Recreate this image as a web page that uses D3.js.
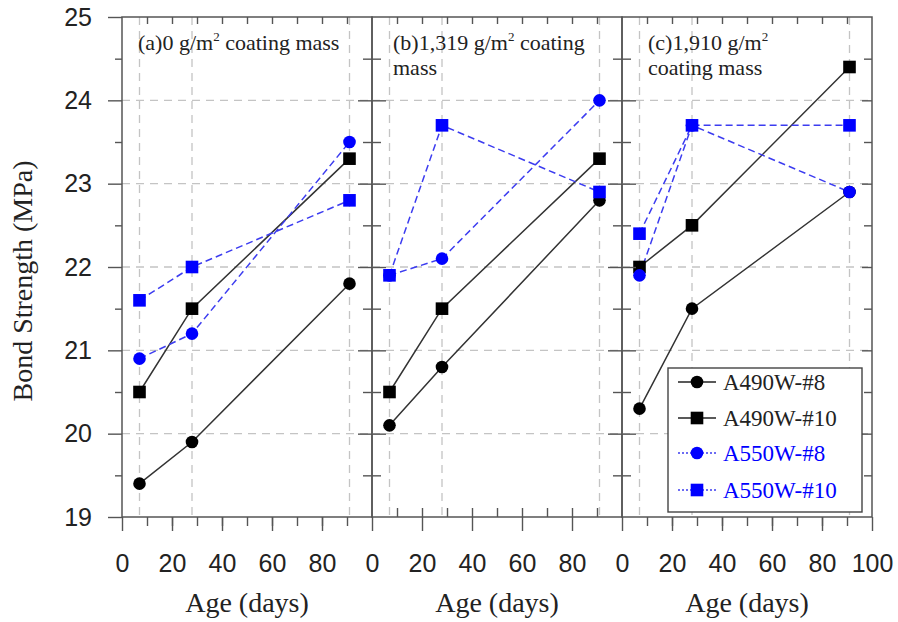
<!DOCTYPE html>
<html>
<head>
<meta charset="utf-8">
<script src="https://cdn.jsdelivr.net/npm/d3@7"></script>
<style>
  body { margin: 0; background: #fff; }
  svg { display: block; }
  .tick text { font-family: "Liberation Sans", Arial, sans-serif; font-size: 25px; fill: #222; }
  .serif { font-family: "Liberation Serif", "Times New Roman", serif; fill: #222; }
</style>
</head>
<body>
<div id="chart"></div>
<script>
// ages (days) at which bond strength was measured
const ages = [7, 28, 91];
const panelTitles = [
  ['(a)0 g/m', '2', ' coating mass'],
  ['(b)1,319 g/m', '2', ' coating', 'mass'],
  ['(c)1,910 g/m', '2', '', 'coating mass']
];
// one row per panel (a, b, c), values in MPa
const a490w8  = [[19.4, 19.9, 21.8], [20.1, 20.8, 22.8], [20.3, 21.5, 22.9]];
const a490w10 = [[20.5, 21.5, 23.3], [20.5, 21.5, 23.3], [22.0, 22.5, 24.4]];
const a550w8  = [[20.9, 21.2, 23.5], [21.9, 22.1, 24.0], [21.9, 23.7, 22.9]];
const a550w10 = [[21.6, 22.0, 22.8], [21.9, 23.7, 22.9], [22.4, 23.7, 23.7]];
const seriesNames = ['A490W-#8', 'A490W-#10', 'A550W-#8', 'A550W-#10'];
const yTicks = [19, 20, 21, 22, 23, 24, 25];
const xTicks = [0, 20, 40, 60, 80, 100];

const width = 898, height = 622;
const panelLeft = [122, 372, 622];
const panelW = 250;
const plotTop = 17, plotBottom = 517;

const series = [
  { name: seriesNames[0], data: a490w8,  color: '#000', line: '#333', dash: null, shape: 'circle' },
  { name: seriesNames[1], data: a490w10, color: '#000', line: '#333', dash: null, shape: 'square' },
  { name: seriesNames[2], data: a550w8,  color: '#0000ff', line: '#3c3cf0', dash: '7,4', shape: 'circle' },
  { name: seriesNames[3], data: a550w10, color: '#0000ff', line: '#3c3cf0', dash: '7,4', shape: 'square' }
];

const svg = d3.select('#chart').append('svg')
  .attr('width', width).attr('height', height);

const y = d3.scaleLinear().domain([19, 25]).range([plotBottom, plotTop]);
const yMinor = d3.range(19.5, 25, 1);
const xMinor = d3.range(10, 100, 10);

function marker(g, shape, cx, cy, color) {
  if (shape === 'circle') {
    g.append('circle').attr('cx', cx).attr('cy', cy).attr('r', 6.3).attr('fill', color);
  } else {
    g.append('rect').attr('x', cx - 6.3).attr('y', cy - 6.3)
      .attr('width', 12.6).attr('height', 12.6).attr('fill', color);
  }
}

function styleAxis(g) {
  g.select('.domain').remove();
  g.selectAll('.tick line').attr('stroke', '#555').attr('stroke-width', 1.4);
}

panelLeft.forEach((left, p) => {
  const x = d3.scaleLinear().domain([0, 100]).range([left, left + panelW]);
  const g = svg.append('g');

  // grid
  g.selectAll('.hgrid').data(yTicks.slice(1, -1)).enter().append('line')
    .attr('x1', left).attr('x2', left + panelW)
    .attr('y1', d => y(d)).attr('y2', d => y(d))
    .attr('stroke', '#c4c4c4').attr('stroke-width', 1.3).attr('stroke-dasharray', '8,6');
  g.selectAll('.vgrid').data(ages).enter().append('line')
    .attr('x1', d => x(d)).attr('x2', d => x(d))
    .attr('y1', plotTop).attr('y2', plotBottom)
    .attr('stroke', '#c4c4c4').attr('stroke-width', 1.3).attr('stroke-dasharray', '8,6');

  // series
  const line = d3.line().x((d, i) => x(ages[i])).y(d => y(d));
  series.forEach(s => {
    g.append('path').datum(s.data[p])
      .attr('d', line).attr('fill', 'none')
      .attr('stroke', s.line).attr('stroke-width', 1.5)
      .attr('stroke-dasharray', s.dash);
  });
  series.forEach(s => {
    s.data[p].forEach((v, i) => marker(g, s.shape, x(ages[i]), y(v), s.color));
  });

  // frame
  g.append('rect').attr('x', left).attr('y', plotTop).attr('width', panelW).attr('height', plotBottom - plotTop)
    .attr('fill', 'none').attr('stroke', '#555').attr('stroke-width', 1.5);

  // bottom axis
  const xMajor = p === 2 ? xTicks : xTicks.slice(0, -1);
  g.append('g').attr('transform', `translate(0,${plotBottom})`)
    .call(d3.axisBottom(x).tickValues(xMajor).tickSize(14).tickPadding(23).tickFormat(d3.format('d')))
    .call(styleAxis);
  g.append('g').attr('transform', `translate(0,${plotBottom})`)
    .call(d3.axisBottom(x).tickValues(xMinor).tickSize(p === 1 ? -9 : 9).tickFormat(''))
    .call(styleAxis);
  // top axis (inward)
  g.append('g').attr('transform', `translate(0,${plotTop})`)
    .call(d3.axisTop(x).tickValues(xMinor).tickSize(-7).tickFormat(''))
    .call(styleAxis);

  // left axis
  if (p === 0) {
    g.append('g').attr('transform', `translate(${left},0)`)
      .call(d3.axisLeft(y).tickValues(yTicks).tickSize(14).tickPadding(16).tickFormat(d3.format('d')))
      .call(styleAxis);
    g.append('g').attr('transform', `translate(${left},0)`)
      .call(d3.axisLeft(y).tickValues(yMinor).tickSize(7).tickFormat(''))
      .call(styleAxis);
  } else {
    g.append('g').attr('transform', `translate(${left},0)`)
      .call(d3.axisLeft(y).tickValues(yTicks.slice(1, -1)).tickSize(14).tickFormat(''))
      .call(styleAxis);
    g.append('g').attr('transform', `translate(${left},0)`)
      .call(d3.axisRight(y).tickValues(yTicks.slice(1, -1)).tickSize(14).tickFormat(''))
      .call(styleAxis);
    g.append('g').attr('transform', `translate(${left},0)`)
      .call(d3.axisLeft(y).tickValues(yMinor).tickSize(9).tickFormat(''))
      .call(styleAxis);
    g.append('g').attr('transform', `translate(${left},0)`)
      .call(d3.axisRight(y).tickValues(yMinor).tickSize(9).tickFormat(''))
      .call(styleAxis);
  }
  if (p === 2) {
    g.append('g').attr('transform', `translate(${left + panelW},0)`)
      .call(d3.axisRight(y).tickValues(yTicks.slice(1, -1)).tickSize(-10).tickFormat(''))
      .call(styleAxis);
    g.append('g').attr('transform', `translate(${left + panelW},0)`)
      .call(d3.axisRight(y).tickValues(yMinor).tickSize(-8).tickFormat(''))
      .call(styleAxis);
  }

  // x axis title
  g.append('text').attr('class', 'serif')
    .attr('x', left + panelW / 2).attr('y', 612)
    .attr('text-anchor', 'middle').attr('font-size', 28)
    .text('Age (days)');

  // panel title
  const t = panelTitles[p];
  const tx = [138, 393, 648][p];
  const title = g.append('text').attr('class', 'serif')
    .attr('x', tx).attr('y', 50).attr('font-size', 22);
  title.append('tspan').text(t[0]);
  title.append('tspan').attr('font-size', 13).attr('dy', -9).text(t[1]);
  title.append('tspan').attr('dy', 9).text(t[2]);
  if (t[3]) {
    g.append('text').attr('class', 'serif')
      .attr('x', tx).attr('y', 75).attr('font-size', 22).text(t[3]);
  }
});

// y axis title
svg.append('text').attr('class', 'serif')
  .attr('transform', 'translate(32,281) rotate(-90)')
  .attr('text-anchor', 'middle').attr('font-size', 28)
  .text('Bond Strength (MPa)');

// legend
const leg = svg.append('g').attr('transform', 'translate(668,368)');
leg.append('rect').attr('width', 194).attr('height', 144)
  .attr('fill', '#fff').attr('stroke', '#444').attr('stroke-width', 1.4);
const rowY = [14, 50, 85, 122];
series.forEach((s, i) => {
  const r = leg.append('g').attr('transform', `translate(0,${rowY[i]})`);
  r.append('line').attr('x1', 10).attr('x2', 48).attr('y1', 0).attr('y2', 0)
    .attr('stroke', s.dash ? '#3c3cf0' : '#222').attr('stroke-width', 1.4)
    .attr('stroke-dasharray', s.dash ? '2,2' : null);
  marker(r, s.shape, 29, 0, s.color);
  r.append('text').attr('class', 'serif').attr('x', 55).attr('y', 8)
    .attr('font-size', 23).style('fill', s.dash ? '#0000ff' : '#222')
    .text(s.name);
});
</script>
</body>
</html>
